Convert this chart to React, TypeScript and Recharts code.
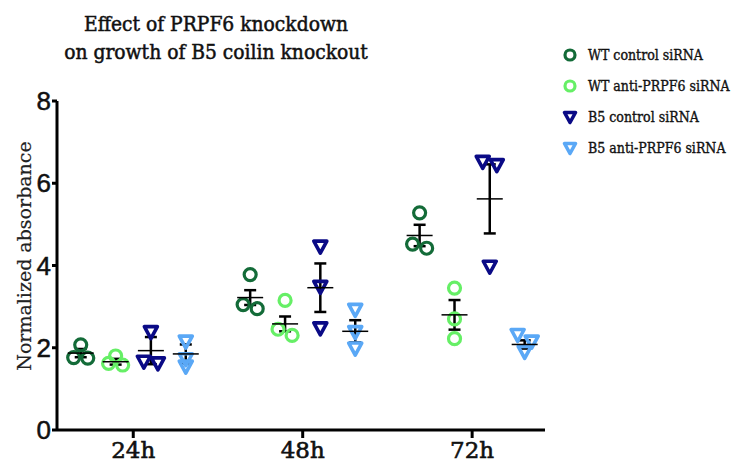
import React from "react";
import { ScatterChart, Scatter, XAxis, YAxis, ErrorBar } from "recharts";

const categories = ["24h", "48h", "72h"];
const seriesNames = ["WT control siRNA", "WT anti-PRPF6 siRNA", "B5 control siRNA", "B5 anti-PRPF6 siRNA"];
const seriesColors = ["#136b38", "#66ef66", "#0a0a86", "#5aa8f6"];
const seriesMarkers = ["circle", "circle", "triangle", "triangle"];

// replicate values, one list per time point
const wtControl = [[1.75, 1.76, 2.07], [3.78, 2.95, 3.05], [5.28, 4.42, 4.52]];
const wtAnti = [[1.58, 1.62, 1.8], [3.15, 2.45, 2.3], [3.45, 2.7, 2.22]];
const b5Control = [[2.38, 1.66, 1.62], [4.46, 3.48, 2.47], [6.52, 6.44, 3.97]];
const b5Anti = [[2.15, 1.72, 1.54], [2.92, 2.38, 1.98], [2.31, 2.15, 1.9]];

// mean and SEM as drawn
const wtControlMean = [1.87, 3.22, 4.73];
const wtControlSem = [0.1, 0.18, 0.26];
const wtAntiMean = [1.66, 2.58, 2.8];
const wtAntiSem = [0.07, 0.18, 0.36];
const b5ControlMean = [1.93, 3.46, 5.62];
const b5ControlSem = [0.33, 0.59, 0.84];
const b5AntiMean = [1.85, 2.4, 2.08];
const b5AntiSem = [0.23, 0.27, 0.1];

const replicates = [wtControl, wtAnti, b5Control, b5Anti];
const means = [wtControlMean, wtAntiMean, b5ControlMean, b5AntiMean];
const sems = [wtControlSem, wtAntiSem, b5ControlSem, b5AntiSem];

const groupOffset = [-0.31, -0.104, 0.104, 0.31];
const SERIF = "'DejaVu Serif', serif";
const SANS = "'Liberation Sans', Arial, sans-serif";
const condensed = { fontStretch: "condensed" } as React.CSSProperties;

// points that would overlap sit side by side, like a column scatter
function spread(values: number[]) {
  const order = values.map((_, i) => i).sort((a, b) => values[b] - values[a]);
  const rows: number[][] = [];
  order.forEach((i) => {
    const last = rows[rows.length - 1];
    if (last && values[last[last.length - 1]] - values[i] < 0.17) last.push(i);
    else rows.push([i]);
  });
  const off = values.map(() => 0);
  rows.forEach((r) => r.forEach((i, k) => (off[i] = (k - (r.length - 1) / 2) * 0.083)));
  return off;
}

const pointData = replicates.map((series, s) =>
  series.flatMap((vals, c) => {
    const off = spread(vals);
    return vals.map((v, i) => ({ x: c + groupOffset[s] + off[i], y: v }));
  })
);

const meanData = means.flatMap((m, s) =>
  m.map((v, c) => ({ x: c + groupOffset[s], y: v, sem: sems[s][c] }))
);

function Marker({ cx, cy, kind, color, r = 6 }: any) {
  if (kind === "circle") {
    return <circle cx={cx} cy={cy} r={r} fill="none" stroke={color} strokeWidth={3.2} />;
  }
  const h = r + 0.5;
  return (
    <polygon
      points={`${cx - h},${cy - h + 1} ${cx + h},${cy - h + 1} ${cx},${cy + h}`}
      fill="none"
      stroke={color}
      strokeWidth={3.6}
      strokeLinejoin="round"
    />
  );
}

const MeanLine = (p: any) => (
  <line x1={p.cx - 13} x2={p.cx + 13} y1={p.cy} y2={p.cy} stroke="#000" strokeWidth={1.5} />
);

export default function App() {
  return (
    <div style={{ position: "absolute", left: 0, top: 0, background: "#fff" }}>
      <ScatterChart width={734} height={463} margin={{ top: 101, right: 189, bottom: 0, left: 0 }}>
        <XAxis
          dataKey="x"
          type="number"
          domain={[-0.45, 2.43]}
          ticks={[0, 1, 2]}
          tickFormatter={(v: number) => categories[v]}
          height={33}
          axisLine={{ stroke: "#000", strokeWidth: 3 }}
          tickLine={{ stroke: "#000", strokeWidth: 3 }}
          tickSize={8}
          tickMargin={4}
          tick={{ fontFamily: SERIF, fontSize: 23, fill: "#111", stroke: "#111", strokeWidth: 0.6 }}
          allowDataOverflow
        />
        <YAxis
          dataKey="y"
          type="number"
          domain={[0, 8]}
          ticks={[0, 2, 4, 6, 8]}
          width={57}
          axisLine={{ stroke: "#000", strokeWidth: 3 }}
          tickLine={{ stroke: "#000", strokeWidth: 3 }}
          tickSize={5}
          tickMargin={1}
          tick={{ fontFamily: SANS, fontSize: 26, fill: "#111", stroke: "#111", strokeWidth: 0.5 }}
          allowDataOverflow
        />
        <YAxis
          yAxisId="minor"
          type="number"
          domain={[0, 8]}
          ticks={[1, 3, 5, 7]}
          mirror
          width={0}
          axisLine={false}
          tickLine={{ stroke: "#000", strokeWidth: 2.5 }}
          tickSize={4}
          tickFormatter={() => ""}
          allowDataOverflow
        />
        {pointData.map((d, s) => (
          <Scatter
            key={seriesNames[s]}
            name={seriesNames[s]}
            data={d}
            isAnimationActive={false}
            shape={(p: any) => <Marker cx={p.cx} cy={p.cy} kind={seriesMarkers[s]} color={seriesColors[s]} />}
          />
        ))}
        <Scatter name="mean" data={meanData} isAnimationActive={false} shape={MeanLine} legendType="none">
          <ErrorBar dataKey="sem" direction="y" width={6} stroke="#000" strokeWidth={2.5} />
        </Scatter>

        <text x={216} y={31} textAnchor="middle" fontFamily={SERIF} fontSize={20.8} fill="#111" stroke="#111" strokeWidth={0.5} style={condensed}>
          Effect of PRPF6 knockdown
        </text>
        <text x={216} y={59} textAnchor="middle" fontFamily={SERIF} fontSize={20.8} fill="#111" stroke="#111" strokeWidth={0.5} style={condensed}>
          on growth of B5 coilin knockout
        </text>
        <text transform="translate(31,256) rotate(-90)" textAnchor="middle" fontFamily={SERIF} fontSize={19} fill="#222" stroke="#222" strokeWidth={0.2}>
          Normalized absorbance
        </text>
        {seriesNames.map((name, s) => {
          const y = 55 + s * 31;
          return (
            <g key={name}>
              <Marker cx={570} cy={y} kind={seriesMarkers[s]} color={seriesColors[s]} r={5} />
              <text x={588} y={y + 5} fontFamily={SERIF} fontSize={14} fill="#111" stroke="#111" strokeWidth={0.35} style={condensed}>
                {name}
              </text>
            </g>
          );
        })}
      </ScatterChart>
    </div>
  );
}
